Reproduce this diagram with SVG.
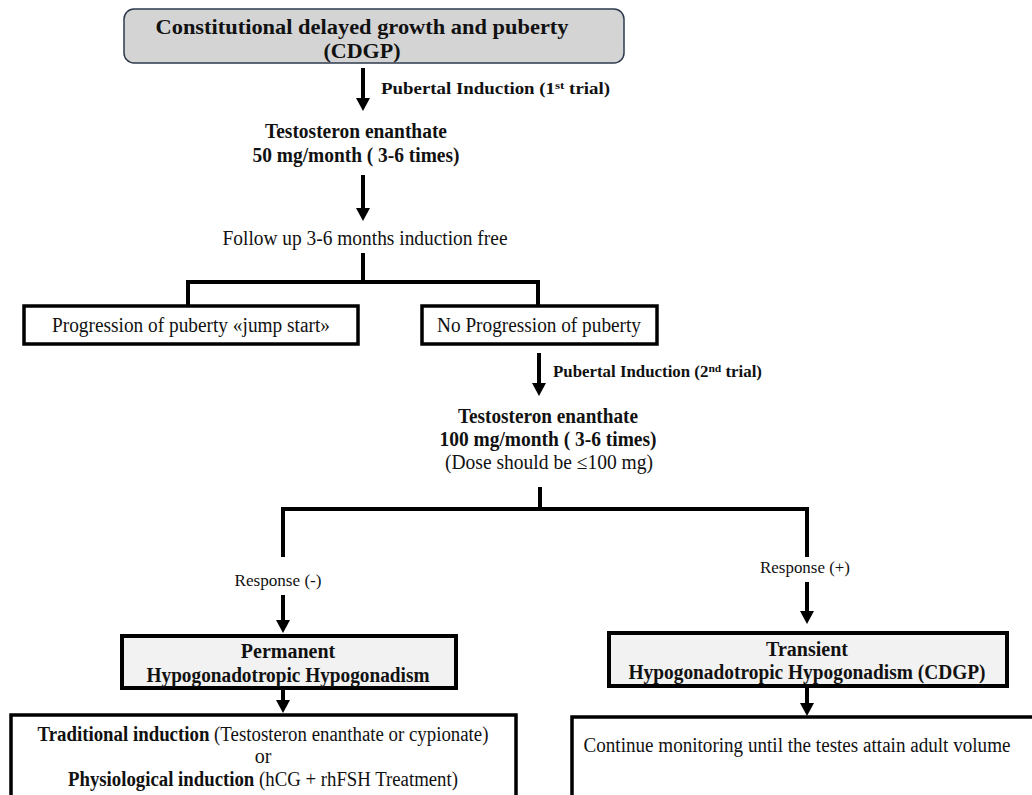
<svg xmlns="http://www.w3.org/2000/svg" width="1032" height="795" viewBox="0 0 1032 795">
<defs>
<marker id="ah" markerUnits="userSpaceOnUse" markerWidth="16" markerHeight="16" refX="1" refY="0" viewBox="0 -8 15 16" orient="auto" overflow="visible">
<polygon points="0,-7 0,7 13,0" fill="#000"/>
</marker>
</defs>
<style>
text{font-family:"Liberation Serif","Times New Roman",serif;fill:#111;text-anchor:middle}
.b{font-weight:bold}
.t{font-size:20px}
.lbl{font-size:16px;font-weight:bold;text-anchor:start}
.resp{font-size:17px}
.box{fill:#fff;stroke:#000;stroke-width:3.5}
.gbox{fill:#f2f2f2;stroke:#000;stroke-width:4}
.ln{fill:none;stroke:#000;stroke-width:4}
.arr{fill:none;stroke:#000;stroke-width:4;marker-end:url(#ah)}
</style>
<rect width="1032" height="795" fill="#fff"/>

<g id="connectors">
<line class="arr" x1="363" y1="68" x2="363" y2="99"/>
<line class="arr" x1="363" y1="175" x2="363" y2="209"/>
<polyline class="ln" points="363,253 363,282"/>
<polyline class="ln" points="188,306 188,282 538,282 538,306"/>
<line class="arr" x1="539" y1="353" x2="539" y2="384"/>
<polyline class="ln" points="540,487 540,509"/>
<polyline class="ln" points="283,557 283,509 807,509 807,557"/>
<line class="arr" x1="283" y1="595" x2="283" y2="621"/>
<line class="arr" x1="807" y1="582" x2="807" y2="612"/>
<line class="arr" x1="283" y1="690" x2="283" y2="701"/>
<line class="arr" x1="807" y1="688" x2="807" y2="704"/>
</g>

<g id="cdgp">
<rect x="124" y="9" width="500" height="54" rx="10" fill="#d4d4d4" stroke="#2e3a4c" stroke-width="1.5"/>
<text class="b" x="362" y="34" font-size="22" textLength="413" lengthAdjust="spacingAndGlyphs">Constitutional delayed growth and puberty</text>
<text class="b" x="362" y="58" font-size="22">(CDGP)</text>
</g>

<g id="label1">
<text class="lbl" x="381" y="94" textLength="229" lengthAdjust="spacingAndGlyphs">Pubertal Induction (1<tspan font-size="11" dy="-5">st</tspan><tspan dy="5"> trial)</tspan></text>
</g>

<g id="te50">
<text class="b t" x="356" y="138" textLength="182" lengthAdjust="spacingAndGlyphs">Testosteron enanthate</text>
<text class="b t" x="356" y="162" textLength="207" lengthAdjust="spacingAndGlyphs">50 mg/month ( 3-6 times)</text>
</g>

<g id="followup">
<text class="t" x="365" y="245" textLength="285" lengthAdjust="spacingAndGlyphs">Follow up 3-6 months induction free</text>
</g>

<g id="progression">
<rect class="box" x="24" y="306" width="334" height="38"/>
<text class="t" x="191" y="332" textLength="278" lengthAdjust="spacingAndGlyphs">Progression of puberty «jump start»</text>
</g>

<g id="noprogression">
<rect class="box" x="422" y="306" width="235" height="38"/>
<text class="t" x="539" y="332" textLength="204" lengthAdjust="spacingAndGlyphs">No Progression of puberty</text>
</g>

<g id="label2">
<text class="lbl" x="553" y="377" textLength="209" lengthAdjust="spacingAndGlyphs">Pubertal Induction (2<tspan font-size="11" dy="-5">nd</tspan><tspan dy="5"> trial)</tspan></text>
</g>

<g id="te100">
<text class="b t" x="548" y="423" textLength="180" lengthAdjust="spacingAndGlyphs">Testosteron enanthate</text>
<text class="b t" x="548" y="446" textLength="217" lengthAdjust="spacingAndGlyphs">100 mg/month ( 3-6 times)</text>
<text class="t" x="549" y="469" textLength="208" lengthAdjust="spacingAndGlyphs">(Dose should be ≤100 mg)</text>
</g>

<g id="resp-neg">
<text class="resp" x="278" y="586" textLength="87" lengthAdjust="spacingAndGlyphs">Response (-)</text>
</g>

<g id="resp-pos">
<text class="resp" x="805" y="573" textLength="90" lengthAdjust="spacingAndGlyphs">Response (+)</text>
</g>

<g id="permanent">
<rect class="gbox" x="122" y="636" width="334" height="52"/>
<text class="b t" x="288" y="658">Permanent</text>
<text class="b t" x="288" y="682" textLength="283" lengthAdjust="spacingAndGlyphs">Hypogonadotropic Hypogonadism</text>
</g>

<g id="transient">
<rect class="gbox" x="609" y="633" width="398" height="53"/>
<text class="b t" x="807" y="656">Transient</text>
<text class="b t" x="807" y="679" textLength="357" lengthAdjust="spacingAndGlyphs">Hypogonadotropic Hypogonadism (CDGP)</text>
</g>

<g id="treatment">
<rect class="box" x="11" y="715" width="505" height="90"/>
<text class="t" x="263" y="741" textLength="451" lengthAdjust="spacingAndGlyphs"><tspan font-weight="bold">Traditional induction</tspan> (Testosteron enanthate or cypionate)</text>
<text class="t" x="263" y="763">or</text>
<text class="t" x="263" y="786" textLength="390" lengthAdjust="spacingAndGlyphs"><tspan font-weight="bold">Physiological induction</tspan> (hCG + rhFSH Treatment)</text>
</g>

<g id="monitoring">
<rect class="box" x="572" y="717" width="470" height="90"/>
<text class="t" x="797" y="752" textLength="427" lengthAdjust="spacingAndGlyphs">Continue monitoring until the testes attain adult volume</text>
</g>
</svg>
